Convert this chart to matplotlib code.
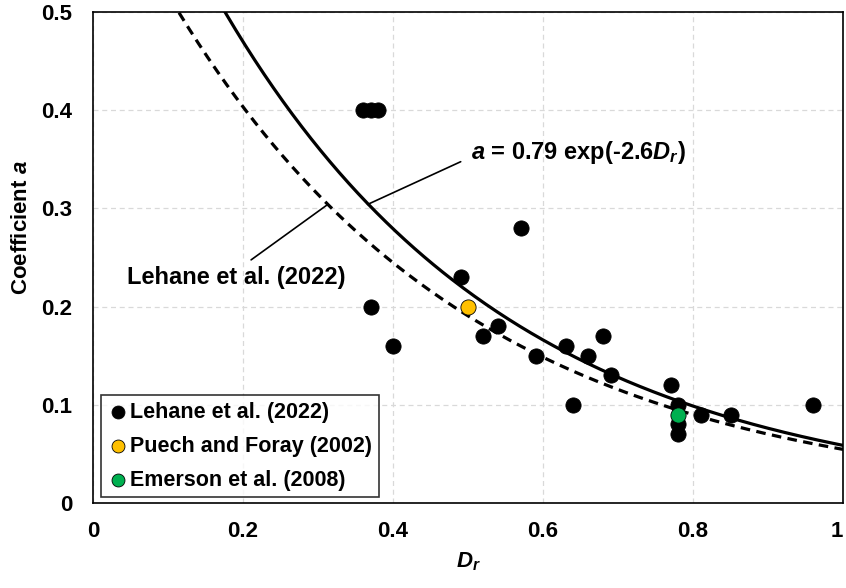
import numpy as np
import matplotlib
matplotlib.use("Agg")
import matplotlib.pyplot as plt

plt.rcParams['font.family'] = ['Liberation Sans', 'DejaVu Sans']
plt.rcParams['font.weight'] = 'bold'
plt.rcParams['axes.labelweight'] = 'bold'
plt.rcParams['mathtext.fontset'] = 'custom'
plt.rcParams['mathtext.it'] = 'Liberation Sans:bold:italic'
plt.rcParams['mathtext.rm'] = 'Liberation Sans:bold'
plt.rcParams['mathtext.bf'] = 'Liberation Sans:bold'

# measured data: relative density vs coefficient a
lehane_dr = [0.36, 0.37, 0.38, 0.37, 0.40, 0.49, 0.52, 0.54, 0.57, 0.59, 0.63, 0.64,
             0.66, 0.68, 0.69, 0.77, 0.78, 0.78, 0.78, 0.81, 0.85, 0.96]
lehane_a = [0.40, 0.40, 0.40, 0.20, 0.16, 0.23, 0.17, 0.18, 0.28, 0.15, 0.16, 0.10,
            0.15, 0.17, 0.13, 0.12, 0.10, 0.08, 0.07, 0.09, 0.09, 0.10]
puech_dr = [0.50]
puech_a = [0.20]
emerson_dr = [0.78]
emerson_a = [0.09]

# fitted curves a = A exp(-k Dr)
fit_A, fit_k = 0.79, 2.6
lehane_A, lehane_k = 0.665, 2.5

dr = np.linspace(0.0, 1.0, 400)

fig = plt.figure(figsize=(8.46, 5.88), dpi=100)
ax = fig.add_axes([0.110, 0.1446, 0.8865, 0.835])

ax.plot(dr, fit_A * np.exp(-fit_k * dr), color='black', lw=2.3, zorder=3)
ax.plot(dr, lehane_A * np.exp(-lehane_k * dr), color='black', lw=2.3,
        dashes=(3, 2), zorder=3)

ax.scatter(lehane_dr, lehane_a, s=120, c='black', edgecolors='black', lw=0.6,
           zorder=4, label='Lehane et al. (2022)')
ax.scatter(puech_dr, puech_a, s=120, c='#ffc000', edgecolors='black', lw=0.6,
           zorder=5, label='Puech and Foray (2002)')
ax.scatter(emerson_dr, emerson_a, s=120, c='#00b050', edgecolors='black', lw=0.6,
           zorder=5, label='Emerson et al. (2008)')

ax.set_xlim(0, 1)
ax.set_ylim(0, 0.5)
ax.set_xticks([0, 0.2, 0.4, 0.6, 0.8, 1.0])
ax.set_xticklabels(['0', '0.2', '0.4', '0.6', '0.8', '1'])
ax.set_yticks([0, 0.1, 0.2, 0.3, 0.4, 0.5])
ax.set_yticklabels(['0', '0.1', '0.2', '0.3', '0.4', '0.5'])
ax.tick_params(axis='x', length=0, pad=13, labelsize=16)
ax.tick_params(axis='y', length=0, pad=15, labelsize=16)
ax.get_xticklabels()[-1].set_horizontalalignment('right')
ax.grid(True, color='#d9d9d9', ls=(0, (4, 3)), lw=0.9)
ax.set_axisbelow(True)
for sp in ax.spines.values():
    sp.set_color('black')
    sp.set_linewidth(1.2)

ax.set_xlabel('$D_r$', fontsize=16, labelpad=6)
ax.set_ylabel('Coefficient $a$', fontsize=16)
ax.yaxis.set_label_coords(-0.082, 0.56)

# curve labels with leader lines
ax.annotate('$a$ = 0.79 exp(-2.6$D_r$)', xy=(0.366, 0.304), xytext=(0.504, 0.3565),
            fontsize=17, fontweight='bold', va='center', ha='left',
            arrowprops=dict(arrowstyle='-', color='black', lw=1.2,
                            shrinkA=6, shrinkB=0, relpos=(0, 0.35)))
ax.annotate('Lehane et al. (2022)', xy=(0.312, 0.3035), xytext=(0.336, 0.23),
            fontsize=17, fontweight='bold', va='center', ha='right',
            arrowprops=dict(arrowstyle='-', color='black', lw=1.2,
                            shrinkA=0, shrinkB=0, relpos=(0.57, 1.25)))

leg = ax.legend(loc='lower left', bbox_to_anchor=(0.0107, 0.012), borderaxespad=0,
                fontsize=15.5, frameon=True, fancybox=False, edgecolor='black',
                handletextpad=0.05, handlelength=1.0, markerscale=0.85,
                labelspacing=0.6, borderpad=0.3)
leg.get_frame().set_linewidth(1.2)

fig.savefig('out.png', dpi=100)
